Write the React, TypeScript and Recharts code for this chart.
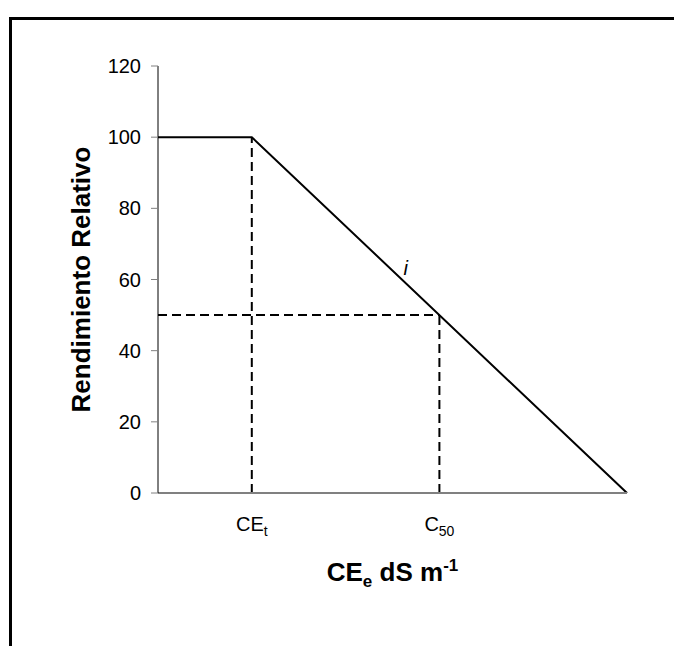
import React from "react";
import { LineChart, Line, XAxis, YAxis, ReferenceLine, ReferenceDot } from "recharts";

// relative yield vs. electrical conductivity (threshold model)
const ecValues = [0, 2, 10];
const relYield = [100, 100, 0];

const yTicks = [0, 20, 40, 60, 80, 100, 120];
const xTicks = [2, 6];
const xTickMain = ["CE", "C"];
const xTickSub = ["t", "50"];

const threshold = 2;
const c50 = 6;
const halfYield = 50;
const slopeLabelAt = { x: 5.28, y: 63 };

const data = ecValues.map((ec, i) => ({ ec, y: relYield[i] }));

const FONT = "'Liberation Sans', Arial, sans-serif";

const XTick = (props: any) => {
  const { x, y, payload } = props;
  const i = xTicks.indexOf(payload.value);
  return (
    <text x={x} y={y + 38} textAnchor="middle" fontFamily={FONT} fontSize={20} fill="#000">
      <tspan>{xTickMain[i]}</tspan>
      <tspan fontSize={14} dy={5}>{xTickSub[i]}</tspan>
    </text>
  );
};

const YTitle = (props: any) => {
  const { viewBox } = props;
  const cx = viewBox.x + 81;
  const cy = viewBox.y + viewBox.height / 2;
  return (
    <text
      x={cx}
      y={cy}
      transform={`rotate(-90, ${cx}, ${cy})`}
      textAnchor="middle"
      dominantBaseline="central"
      fontFamily={FONT}
      fontWeight="bold"
      fontSize={26}
      fill="#000"
    >
      Rendimiento Relativo
    </text>
  );
};

const XTitle = (props: any) => {
  const { viewBox } = props;
  const cx = viewBox.x + viewBox.width / 2;
  return (
    <text x={cx} y={viewBox.y + 88} textAnchor="middle" fontFamily={FONT} fontWeight="bold" fontSize={26} fill="#000">
      <tspan>CE</tspan>
      <tspan fontSize={17} dy={6}>e</tspan>
      <tspan dy={-6}> dS m</tspan>
      <tspan fontSize={17} dy={-10}>-1</tspan>
    </text>
  );
};

const SlopeLabel = (props: any) => {
  const { viewBox } = props;
  return (
    <text x={viewBox.x} y={viewBox.y + 6} textAnchor="middle" fontFamily={FONT} fontStyle="italic" fontSize={20} fill="#000">
      i
    </text>
  );
};

export default function App() {
  return (
    <div style={{ position: "fixed", left: 0, top: 0, width: 674, height: 646, overflow: "hidden", background: "#fff" }}>
      <div
        style={{
          position: "absolute",
          left: 9,
          top: 17,
          width: 670,
          height: 640,
          borderLeft: "3px solid #000",
          borderTop: "3px solid #000",
          boxSizing: "border-box",
        }}
      />
      <div style={{ position: "absolute", left: 0, top: 0 }}>
        <LineChart width={674} height={646} data={data} margin={{ top: 66, right: 47, bottom: 93, left: 0 }}>
          <XAxis
            dataKey="ec"
            type="number"
            domain={[0, 10]}
            ticks={xTicks}
            tick={<XTick />}
            tickLine={false}
            tickSize={0}
            tickMargin={0}
            height={60}
            axisLine={{ stroke: "#808080", strokeWidth: 2 }}
            label={<XTitle />}
          />
          <YAxis
            type="number"
            domain={[0, 120]}
            ticks={yTicks}
            width={158}
            tickSize={7}
            tickMargin={10}
            tickLine={{ stroke: "#808080" }}
            axisLine={{ stroke: "#000" }}
            tick={{ fill: "#000", fontSize: 20, fontFamily: FONT }}
            label={<YTitle />}
          />
          <ReferenceLine
            segment={[{ x: threshold, y: 0 }, { x: threshold, y: 100 }]}
            stroke="#000"
            strokeWidth={2}
            strokeDasharray="9 5"
          />
          <ReferenceLine
            segment={[{ x: 0, y: halfYield }, { x: c50, y: halfYield }]}
            stroke="#000"
            strokeWidth={2}
            strokeDasharray="9 5"
          />
          <ReferenceLine
            segment={[{ x: c50, y: 0 }, { x: c50, y: halfYield }]}
            stroke="#000"
            strokeWidth={2}
            strokeDasharray="9 5"
          />
          <Line
            type="linear"
            dataKey="y"
            stroke="#000"
            strokeWidth={2}
            dot={false}
            activeDot={false}
            isAnimationActive={false}
          />
          <ReferenceDot
            x={slopeLabelAt.x}
            y={slopeLabelAt.y}
            r={0}
            fill="none"
            stroke="none"
            label={<SlopeLabel />}
          />
        </LineChart>
      </div>
    </div>
  );
}
